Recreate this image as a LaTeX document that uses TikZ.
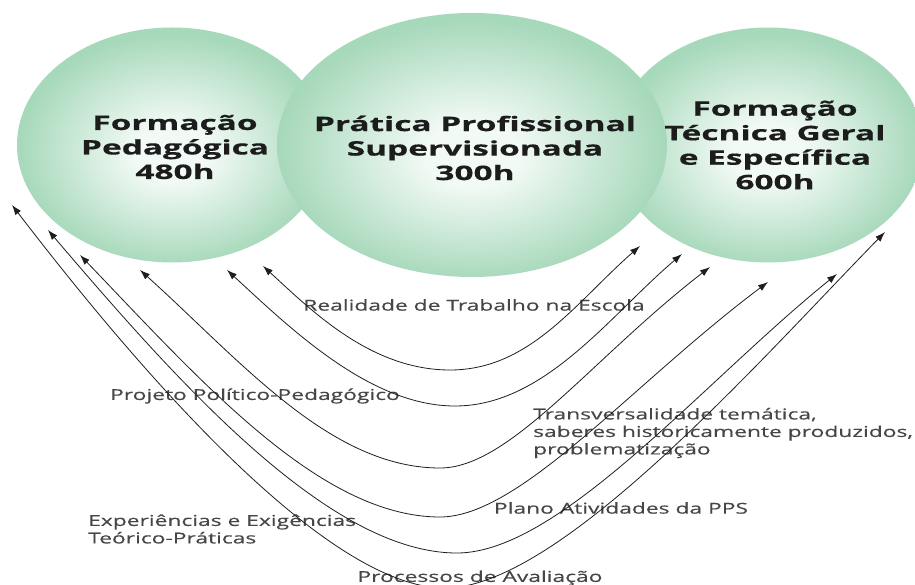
\documentclass[tikz,border=0pt]{standalone}
\usepackage{fontspec}
\setmainfont{Open Sans}
\newfontfamily\titlefont[FakeStretch=1.67,FakeBold=0.5]{Open Sans}
\newfontfamily\labelfont[FakeStretch=1.52,FakeBold=0.4]{Open Sans}
\usetikzlibrary{shapes.geometric,arrows.meta}
\definecolor{cin}{RGB}{242,250,245}
\definecolor{cout}{RGB}{166,216,186}
\definecolor{ttext}{RGB}{28,28,28}
\definecolor{ltext}{RGB}{70,70,70}
\definecolor{arr}{RGB}{30,30,30}
\pgfdeclareradialshading{circ}{\pgfpoint{0bp}{-2bp}}{color(0bp)=(cin); color(6bp)=(cin); color(25bp)=(cout); color(50bp)=(cout)}
\tikzset{
  bubble/.style={ellipse, shading=circ, inner sep=0pt, outer sep=0pt},
  title/.style={font=\titlefont\bfseries\fontsize{20}{24.5}\selectfont, text=ttext, align=center, inner sep=0pt},
  lab/.style={font=\labelfont\fontsize{15}{17.5}\selectfont, text=ltext, inner sep=0pt},
  conn/.style={draw=arr, line width=0.8pt, {Latex[length=10pt,width=7pt]}-{Latex[length=10pt,width=7pt]}}
}
\begin{document}
\begin{tikzpicture}[x=1pt,y=-1pt]
\useasboundingbox (0,0) rectangle (915,585);
% bubbles
\node[bubble, minimum width=310pt, minimum height=235pt] (fp) at (172,145) {};
\node[bubble, minimum width=310pt, minimum height=235pt] (ft) at (768,145) {};
\node[bubble, minimum width=390pt, minimum height=264pt] (pp) at (472,145) {};
% titles
\node[title] (tfp) at (175,147) {Formação\\Pedagógica\\480h};
\node[title] (tpp) at (475,148) {Prática Profissional\\Supervisionada\\300h};
\node[title] (tft) at (775,145) {Formação\\Técnica Geral\\e Específica\\600h};
% labels
\node[lab] (l1) at (474,305) {Realidade de Trabalho na Escola};
\node[lab] (l2) at (255,396) {Projeto Político-Pedagógico};
\node[lab, anchor=west, align=left] (l3) at (533,433) {Transversalidade temática,\\saberes historicamente produzidos,\\problematização};
\node[lab] (l4) at (621,508) {Plano Atividades da PPS};
\node[lab, anchor=west, align=left] (l5) at (88,529) {Experiências e Exigências\\Teórico-Práticas};
\node[lab] (l6) at (480,578) {Processos de Avaliação};
% tips and bottoms
\coordinate (aL) at (263,266); \coordinate (aB) at (450,370); \coordinate (aR) at (640,246);
\coordinate (bL) at (227,270); \coordinate (bB) at (455,406); \coordinate (bR) at (682,254);
\coordinate (cL) at (140,270); \coordinate (cB) at (440,468); \coordinate (cR) at (710,267);
\coordinate (dL) at (80,255);  \coordinate (dB) at (440,517); \coordinate (dR) at (768,282);
\coordinate (eL) at (48,230);  \coordinate (eB) at (457,553); \coordinate (eR) at (837,274);
\coordinate (fL) at (12,205);  \coordinate (fB) at (445,588); \coordinate (fR) at (885,232);
% connectors
\draw[conn] (aL) .. controls (310,309) and (370,370) .. (aB) .. controls (530,370) and (576,302) .. (aR);
\draw[conn] (bL) .. controls (290,328) and (370,406) .. (bB) .. controls (545,406) and (610,315) .. (bR);
\draw[conn] (cL) .. controls (240,360) and (330,468) .. (cB) .. controls (510,468) and (591,359) .. (cR);
\draw[conn] (dL) .. controls (200,380) and (320,517) .. (dB) .. controls (520,517) and (632,384) .. (dR);
\draw[conn] (eL) .. controls (180,385) and (330,553) .. (eB) .. controls (560,553) and (705,380) .. (eR);
\draw[conn] (fL) .. controls (150,385) and (330,588) .. (fB) .. controls (560,588) and (760,360) .. (fR);
\end{tikzpicture}
\end{document}
